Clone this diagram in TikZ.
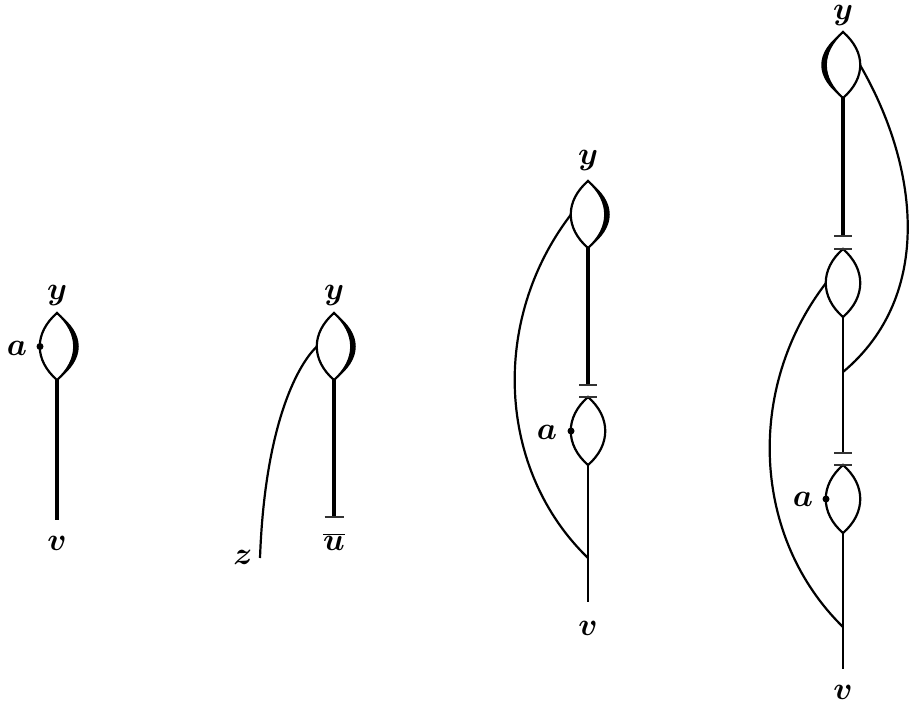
\documentclass[tikz,border=0pt]{standalone}
\usepackage{graphicx}
\usepackage{bm}
\tikzset{
  lensline/.style={line width=2.2pt},
  thickline/.style={line width=3.2pt},
  thinline/.style={line width=1.2pt},
  curveline/.style={line width=2.2pt},
  barline/.style={line width=1.3pt, black!80},
  lab/.style={inner sep=0pt, font=\Huge},
}
\newcommand{\lbl}[1]{\scalebox{1.28}{$#1$}}
\newcommand{\mylens}[4]{% name, cx, top, bottom
  \coordinate (#1t) at (#2,#3);
  \coordinate (#1b) at (#2,#4);
  \coordinate (#1l) at ({#2-17},{(#3+#4)/2});
  \coordinate (#1r) at ({#2+17},{(#3+#4)/2});
  \draw[lensline] (#1t) .. controls ({#2-23},{#3+20}) and ({#2-23},{#4-20}) .. (#1b)
     .. controls ({#2+23},{#4-20}) and ({#2+23},{#3+20}) .. cycle;
}
\newcommand{\thickside}[5]{% cx, top, bottom, inner, outer (signed)
  \fill ({#1},{#2}) .. controls ({#1+(#4)},{#2+20}) and ({#1+(#4)},{#3-20}) .. ({#1},{#3})
     .. controls ({#1+(#5)},{#3-20}) and ({#1+(#5)},{#2+20}) .. cycle;
}
\begin{document}
\begin{tikzpicture}[x=1pt,y=-1pt]
\useasboundingbox (0,0) rectangle (910,709);

% ---------- diagram 1 ----------
\mylens{P}{57}{313}{380}
\thickside{57}{313}{380}{23}{29}
\coordinate (E1) at (57,520);
\draw[thickline] (Pb) -- (E1);
\fill (Pl) circle (3.5);
\node[lab] (a1) at (17,348) {\lbl{\bm{a}}};
\node[lab] (y1) at (57,296) {\lbl{\bm{y}}};
\node[lab] (v1) at (57,543) {\lbl{\bm{v}}};

% ---------- diagram 2 ----------
\mylens{Q}{334}{313}{380}
\thickside{334}{313}{380}{23}{29}
\coordinate (U2) at (334,517);
\draw[thickline] (Qb) -- (U2);
\draw[barline] ([xshift=-9.5pt]U2) -- ([xshift=9.5pt]U2);
\coordinate (Z2) at (260,558);
\draw[curveline] (Z2) .. controls (265,420) and (300,362) .. (Ql);
\node[lab] (y2) at (334,296) {\lbl{\bm{y}}};
\node[lab, anchor=base] (u2) at (334,550) {\lbl{\overline{\bm{u}}}};
\node[lab] (z2) at (243,557) {\lbl{\bm{z}}};

% ---------- diagram 3 ----------
\mylens{R}{588}{181}{248}
\thickside{588}{181}{248}{23}{29}
\mylens{S}{588}{397}{465}
\coordinate (A3) at (588,385);
\draw[thickline] (Rb) -- (A3);
\draw[barline] ([xshift=-9pt]A3) -- ([xshift=9pt]A3);
\draw[barline] ([xshift=-9pt]St) -- ([xshift=9pt]St);
\coordinate (E3) at (588,602);
\coordinate (J3) at (588,558);
\draw[thinline] (Sb) -- (E3);
\draw[curveline] (Rl) .. controls (490,320) and (497,470) .. (J3);
\fill (Sl) circle (3.5);
\node[lab] (a3) at (547,432) {\lbl{\bm{a}}};
\node[lab] (y3) at (588,161) {\lbl{\bm{y}}};
\node[lab] (v3) at (588,628) {\lbl{\bm{v}}};

% ---------- diagram 4 ----------
\mylens{T}{843}{32}{98}
\thickside{843}{32}{98}{-23}{-29}
\mylens{M}{843}{249}{317}
\mylens{N}{843}{465}{533}
\coordinate (A4) at (843,236);
\coordinate (B4) at (843,453);
\draw[thickline] (Tb) -- (A4);
\draw[barline] ([xshift=-9pt]A4) -- ([xshift=9pt]A4);
\draw[barline] ([xshift=-9pt]Mt) -- ([xshift=9pt]Mt);
\draw[thinline] (Mb) -- (B4);
\draw[barline] ([xshift=-9pt]B4) -- ([xshift=9pt]B4);
\draw[barline] ([xshift=-9pt]Nt) -- ([xshift=9pt]Nt);
\coordinate (E4) at (843,669);
\coordinate (J4a) at (843,372);
\coordinate (J4b) at (843,627);
\draw[thinline] (Nb) -- (E4);
\draw[curveline] (Tr) .. controls (918,165) and (935,295) .. (J4a);
\draw[curveline] (Ml) .. controls (745,388) and (752,538) .. (J4b);
\fill (Nl) circle (3.5);
\node[lab] (a4) at (803,499) {\lbl{\bm{a}}};
\node[lab] (y4) at (843,16) {\lbl{\bm{y}}};
\node[lab] (v4) at (843,692) {\lbl{\bm{v}}};
\end{tikzpicture}
\end{document}
